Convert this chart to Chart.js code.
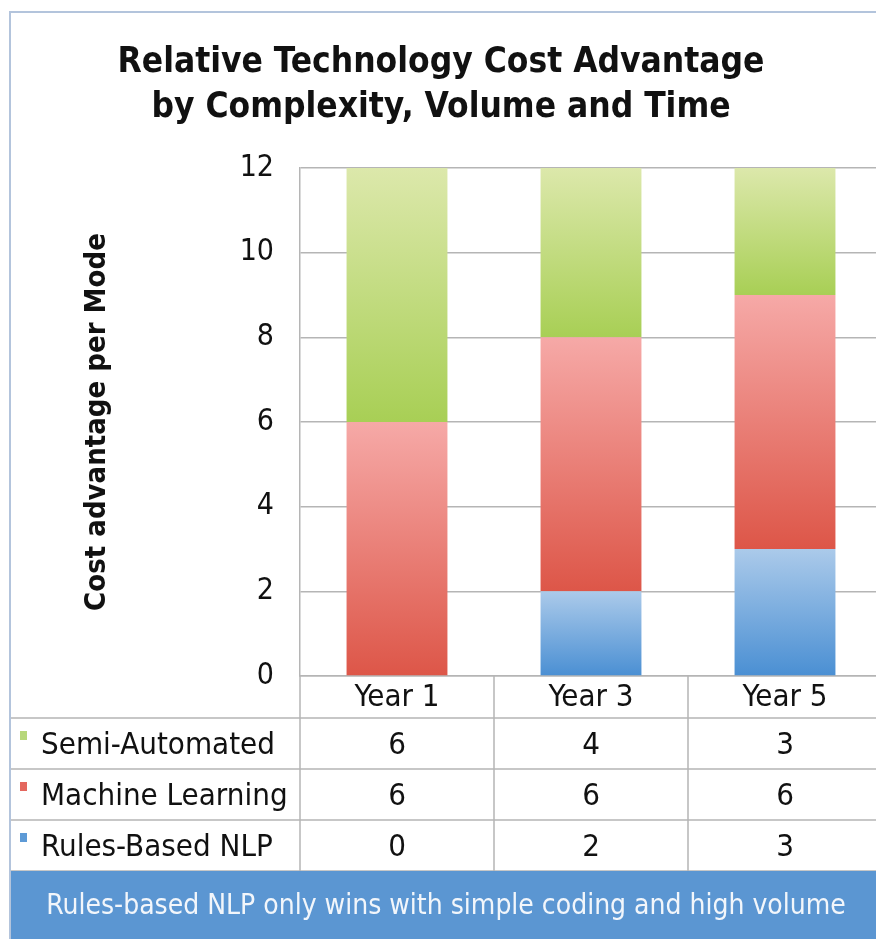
<!DOCTYPE html>
<html>
<head>
<meta charset="utf-8">
<script src="https://cdn.jsdelivr.net/npm/chart.js@4.4.0/dist/chart.umd.min.js"></script>
<style>
  html, body { margin: 0; padding: 0; background: #fff; overflow: hidden; }
  #wrap { position: absolute; left: 0; top: 0; width: 890px; height: 939px; }
</style>
</head>
<body>
<div id="wrap"><canvas id="myChart" width="890" height="939"></canvas></div>
<script>
// categories and series, bottom of the stack first
var years = ['Year 1', 'Year 3', 'Year 5'];
var rulesNlp = [0, 2, 3];
var machineLearning = [6, 6, 6];
var semiAutomated = [6, 4, 3];
var yTicks = [0, 2, 4, 6, 8, 10, 12];
var footNote = 'Rules-based NLP only wins with simple coding and high volume';

var FONT = '"DejaVu Sans Condensed", "DejaVu Sans", sans-serif';
var GRID = '#b5b5b5';

// vertical gradient per bar segment, light at the top
function segGradient(top, bottom) {
	return function(c) {
		var chart = c.chart;
		var area = chart.chartArea;
		var y = chart.scales.y;
		if (!area || !y || c.dataIndex === undefined) return bottom;
		var base = 0;
		for (var k = 0; k < c.datasetIndex; k++) {
			base += chart.data.datasets[k].data[c.dataIndex];
		}
		var y0 = y.getPixelForValue(base + c.raw);
		var y1 = y.getPixelForValue(base);
		if (y1 - y0 < 1) return bottom;
		var g = chart.ctx.createLinearGradient(0, y0, 0, y1);
		g.addColorStop(0, top);
		g.addColorStop(1, bottom);
		return g;
	};
}

// data table under the axis + blue banner + frame
var tablePlugin = {
	id: 'dataTable',
	afterDraw: function(chart) {
		var ctx = chart.ctx;
		var x = chart.scales.x;
		var area = chart.chartArea;
		var rows = [
			{ name: 'Semi-Automated', data: semiAutomated, color: '#b7d77a' },
			{ name: 'Machine Learning', data: machineLearning, color: '#e4675e' },
			{ name: 'Rules-Based NLP', data: rulesNlp, color: '#5d9ad6' }
		];
		var rowTop = x.bottom;
		var rowH = 51;
		var left = 10;
		var right = chart.width;
		var tableBottom = rowTop + rowH * rows.length;
		var half = (x.getPixelForValue(1) - x.getPixelForValue(0)) / 2;

		ctx.save();
		ctx.strokeStyle = GRID;
		ctx.lineWidth = 1.5;
		// row separators
		for (var r = 0; r <= rows.length; r++) {
			var yy = rowTop + r * rowH;
			ctx.beginPath();
			ctx.moveTo(left, yy);
			ctx.lineTo(right, yy);
			ctx.stroke();
		}
		// column separators
		for (var i = 0; i <= years.length; i++) {
			var xx = x.getPixelForValue(i) - half;
			ctx.beginPath();
			ctx.moveTo(xx, area.bottom);
			ctx.lineTo(xx, tableBottom);
			ctx.stroke();
		}

		ctx.font = '31px ' + FONT;
		ctx.textBaseline = 'middle';
		rows.forEach(function(row, r) {
			var top = rowTop + r * rowH;
			var cy = top + rowH / 2 + 2;
			ctx.fillStyle = row.color;
			ctx.fillRect(20, top + 13, 7, 9);
			ctx.fillStyle = '#111';
			ctx.textAlign = 'left';
			ctx.fillText(row.name, 41, cy);
			ctx.textAlign = 'center';
			row.data.forEach(function(v, i) {
				ctx.fillText(String(v), x.getPixelForValue(i), cy);
			});
		});

		// banner
		ctx.fillStyle = '#5b96d2';
		ctx.fillRect(left, tableBottom, right - left, chart.height - tableBottom);
		ctx.fillStyle = '#f2f6fb';
		ctx.font = '28px ' + FONT;
		ctx.textAlign = 'center';
		ctx.fillText(footNote, 446, tableBottom + (chart.height - tableBottom) / 2 + 2);

		// outer frame
		ctx.strokeStyle = '#b3c4dc';
		ctx.lineWidth = 2;
		ctx.beginPath();
		ctx.moveTo(10, chart.height);
		ctx.lineTo(10, 12);
		ctx.lineTo(right, 12);
		ctx.stroke();
		ctx.restore();
	}
};

var ctx = document.getElementById('myChart');

new Chart(ctx, {
	type: 'bar',
	data: {
		labels: years,
		datasets: [{
			label: 'Rules-Based NLP',
			data: rulesNlp,
			backgroundColor: segGradient('#abcaea', '#4a8fd3')
		}, {
			label: 'Machine Learning',
			data: machineLearning,
			backgroundColor: segGradient('#f6a9a7', '#dd5648')
		}, {
			label: 'Semi-Automated',
			data: semiAutomated,
			backgroundColor: segGradient('#dce8ab', '#a8cf55')
		}]
	},
	options: {
		responsive: false,
		animation: false,
		events: [],
		layout: {
			padding: { left: 0, top: 0, right: 8, bottom: 221 }
		},
		datasets: {
			bar: {
				categoryPercentage: 1,
				barPercentage: 0.52,
				borderWidth: 0
			}
		},
		plugins: {
			legend: { display: false },
			tooltip: { enabled: false },
			title: {
				display: true,
				text: ['Relative Technology Cost Advantage', 'by Complexity, Volume and Time'],
				color: '#111',
				font: { family: FONT, size: 35, weight: 'bold', lineHeight: 1.3 },
				padding: { top: 40, bottom: 37 }
			}
		},
		scales: {
			x: {
				stacked: true,
				grid: { display: false, drawTicks: false },
				border: { display: true, color: GRID, width: 1.5 },
				ticks: {
					color: '#111',
					padding: 3,
					font: { family: FONT, size: 31 }
				},
				afterFit: function(scale) { scale.height = 42; }
			},
			y: {
				stacked: true,
				min: 0,
				max: 12,
				afterBuildTicks: function(scale) {
					scale.ticks = yTicks.map(function(v) { return { value: v }; });
				},
				grid: { color: GRID, lineWidth: 1.5, drawTicks: false },
				border: { display: true, color: GRID, width: 1.5 },
				ticks: {
					color: '#111',
					padding: 26,
					font: { family: FONT, size: 30 }
				},
				title: {
					display: true,
					text: 'Cost advantage per Mode',
					color: '#111',
					padding: { top: 80, bottom: 0 },
					font: { family: FONT, size: 29, weight: 'bold', lineHeight: 1.2 }
				},
				afterFit: function(scale) { scale.width = 300; }
			}
		}
	},
	plugins: [tablePlugin]
});
</script>
</body>
</html>
